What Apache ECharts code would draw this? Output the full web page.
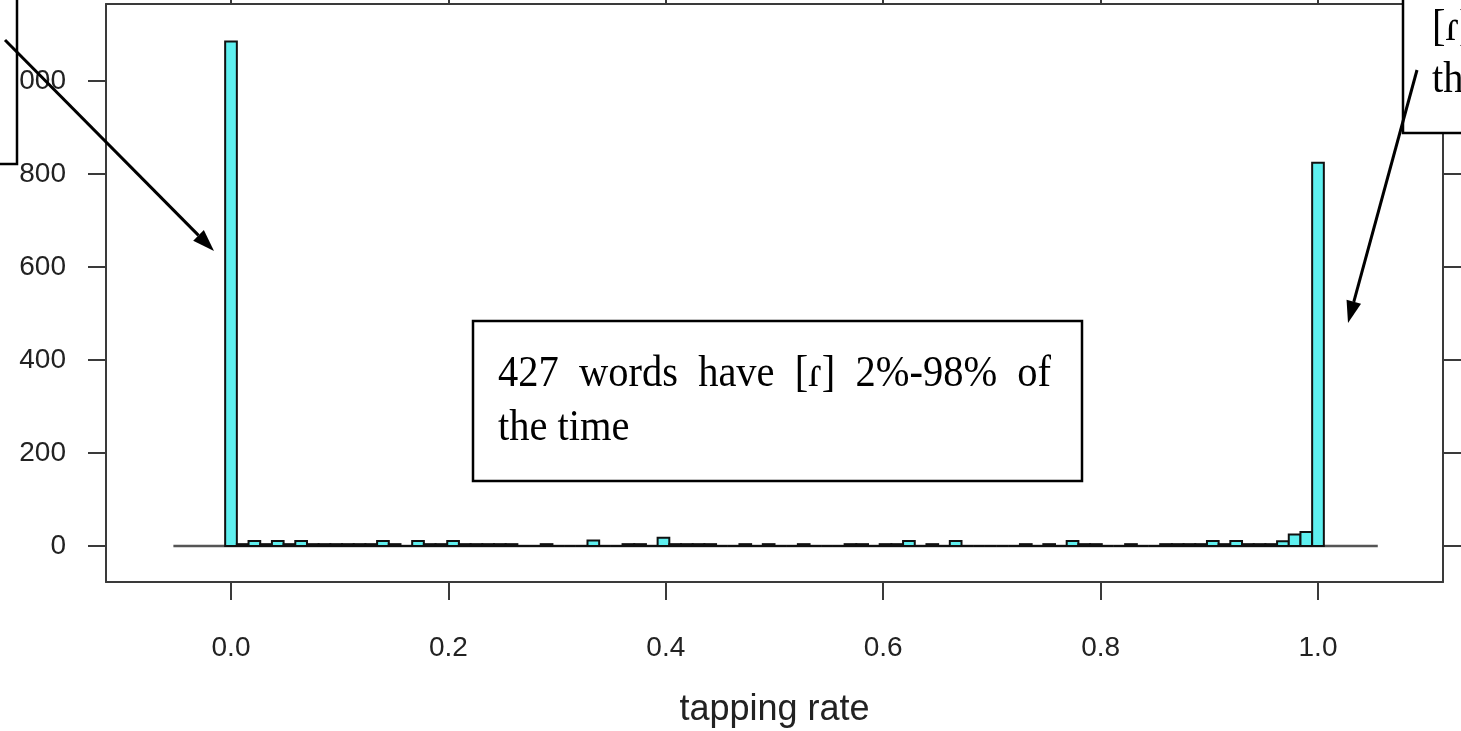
<!DOCTYPE html>
<html>
<head>
<meta charset="utf-8">
<script src="https://cdn.jsdelivr.net/npm/echarts@6/dist/echarts.min.js"></script>
<style>
  html, body { margin: 0; padding: 0; background: #fff; }
  #chart { width: 1461px; height: 731px; }
</style>
</head>
<body>
<div id="chart"></div>
<script>
// histogram of tapping rate per word, bins centred on k/93
const binWidth = 1 / 93;
const counts = [
  1085, 4, 11, 4, 11, 4, 11, 4, 4, 4,
  4, 4, 4, 11, 4, 0, 11, 4, 4, 11,
  4, 4, 4, 4, 4, 0, 0, 4, 0, 0,
  0, 12, 0, 0, 4, 4, 0, 18, 4, 4,
  4, 4, 0, 0, 4, 0, 4, 0, 0, 4,
  0, 0, 0, 4, 4, 0, 4, 4, 11, 0,
  4, 0, 11, 0, 0, 0, 0, 0, 4, 0,
  4, 0, 11, 4, 4, 0, 0, 4, 0, 0,
  4, 4, 4, 4, 11, 4, 11, 4, 4, 4,
  10, 25, 30, 824
];
const xTicks = [0, 0.2, 0.4, 0.6, 0.8, 1.0];
const yTicks = [0, 200, 400, 600, 800, 1000];
const baseline = [-0.053, 1.055];

const bars = counts.map((c, k) => [(k - 0.5) * binWidth, (k + 0.5) * binWidth, c]);

const frameColor = "#3a3a3a";
const sans = "'Liberation Sans', Arial, sans-serif";
const serif = "'Liberation Serif', 'DejaVu Serif', serif";

function arrow(x1, y1, x2, y2) {
  const a = Math.atan2(y2 - y1, x2 - x1);
  const L = 22, W = 7.5;
  const bx = x2 - L * Math.cos(a), by = y2 - L * Math.sin(a);
  const px = -Math.sin(a) * W, py = Math.cos(a) * W;
  return [
    { type: "line", z: 100, shape: { x1: x1, y1: y1, x2: bx, y2: by }, style: { stroke: "#000", lineWidth: 3 } },
    { type: "polygon", z: 100, shape: { points: [[x2, y2], [bx + px, by + py], [bx - px, by - py]] }, style: { fill: "#000" } }
  ];
}

function note(text, x, y) {
  return {
    type: "text", z: 110, x: x, y: y, scaleX: 0.92,
    style: { text: text, x: 0, y: 0, font: "44px " + serif, fill: "#000", verticalAlign: "middle", align: "left" }
  };
}

const xAxisBase = {
  type: "value", min: -0.115, max: 1.115,
  axisLine: { show: true, onZero: false, lineStyle: { color: frameColor, width: 2 } },
  splitLine: { show: false },
  axisTick: { show: true, inside: false, length: 18, customValues: xTicks, lineStyle: { color: frameColor, width: 2 } }
};
const yAxisBase = {
  type: "value", min: -77.4, max: 1165.6,
  axisLine: { show: true, onZero: false, lineStyle: { color: frameColor, width: 2 } },
  splitLine: { show: false },
  axisTick: { show: true, inside: false, length: 18, customValues: yTicks, lineStyle: { color: frameColor, width: 2 } }
};

const option = {
  animation: false,
  backgroundColor: "#fff",
  grid: { left: 106, top: 4, width: 1337, height: 578, containLabel: false, outerBoundsMode: "none" },
  xAxis: [
    Object.assign({}, xAxisBase, {
      position: "bottom",
      name: "tapping rate", nameLocation: "middle", nameGap: 110,
      nameTextStyle: { fontFamily: sans, fontSize: 36, color: "#222" },
      axisLabel: { show: true, customValues: xTicks, margin: 52, fontFamily: sans, fontSize: 28, color: "#222",
        formatter: (v) => v.toFixed(1) }
    }),
    Object.assign({}, xAxisBase, { position: "top", axisLabel: { show: false } })
  ],
  yAxis: [
    Object.assign({}, yAxisBase, {
      position: "left",
      axisLabel: { show: true, customValues: yTicks, margin: 40, fontFamily: sans, fontSize: 28, color: "#222",
        formatter: (v) => String(v) }
    }),
    Object.assign({}, yAxisBase, { position: "right", axisLabel: { show: false } })
  ],
  series: [
    {
      type: "line", xAxisIndex: 0, yAxisIndex: 0, z: 1,
      data: [[baseline[0], 0], [baseline[1], 0]],
      symbol: "none", lineStyle: { color: "#555", width: 2.5 }
    },
    {
      type: "custom", xAxisIndex: 0, yAxisIndex: 0, z: 2,
      data: bars,
      encode: { x: [0, 1], y: 2 },
      renderItem: function (params, api) {
        const lo = api.coord([api.value(0), 0]);
        const hi = api.coord([api.value(1), api.value(2)]);
        return {
          type: "rect",
          shape: { x: lo[0], y: hi[1], width: hi[0] - lo[0], height: lo[1] - hi[1] },
          style: { fill: "#5ef0f0", stroke: "#111", lineWidth: 2 }
        };
      }
    }
  ],
  graphic: {
    elements: [
      // boxes
      { type: "rect", z: 90, shape: { x: -10, y: -10, width: 27, height: 174 }, style: { fill: "#fff", stroke: "#000", lineWidth: 2.5 } },
      { type: "rect", z: 90, shape: { x: 1403, y: -10, width: 80, height: 143 }, style: { fill: "#fff", stroke: "#000", lineWidth: 2.5 } },
      { type: "rect", z: 90, shape: { x: 473, y: 321, width: 609, height: 160 }, style: { fill: "#fff", stroke: "#000", lineWidth: 2.5 } },
      note("427  words  have  [ɾ]  2%-98%  of", 498, 374),
      note("the time", 498, 428),
      note("[ɾ]", 1432, 28),
      note("th", 1432, 80)
    ].concat(arrow(5, 40, 214, 251), arrow(1417, 70, 1348, 323))
  }
};

const chart = echarts.init(document.getElementById("chart"), null, { renderer: "canvas" });
chart.setOption(option);
</script>
</body>
</html>
